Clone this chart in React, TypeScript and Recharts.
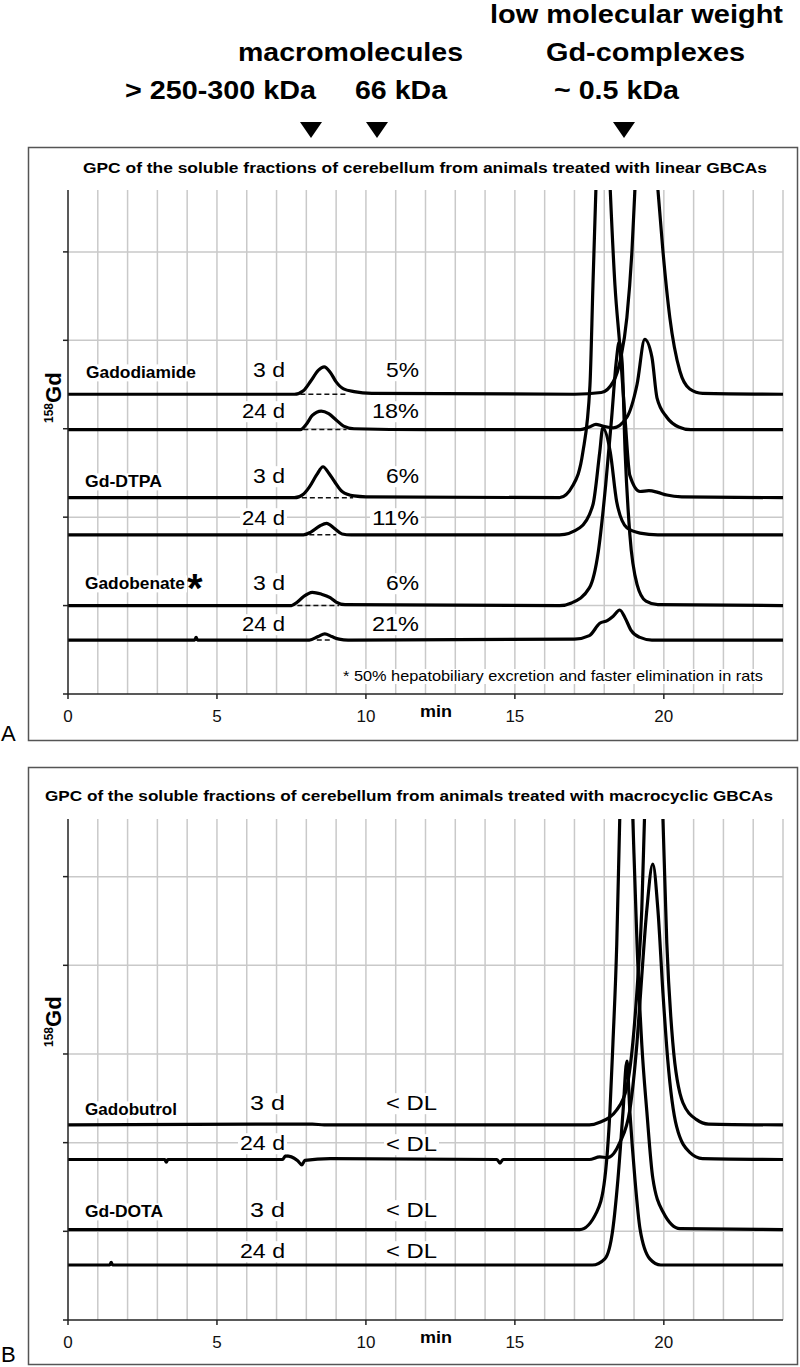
import { CartesianGrid, Line, LineChart, ReferenceLine, XAxis, YAxis } from "recharts";

type Pt = [number, number];
// dashed peak baselines: [from min, to min, level]
type Dash = [number, number, number];

const FONT = '"Liberation Sans", Arial, Helvetica, sans-serif';

const minuteTicks = [0, 5, 10, 15, 20];
const gridMinutes = [1, 2, 3, 4, 5, 6, 7, 8, 9, 10, 11, 12, 13, 14, 15, 16, 17, 18, 19, 20, 21, 22, 23, 24];
const levelTicks = [0, 1, 2, 3, 4, 5];
const gridLevels = [1, 2, 3, 4, 5];

// ---- panel A: linear GBCAs (traces stacked with an offset) ----
const gadodiamide3d: Pt[] = [
  [0, 3.39], [7.6, 3.39], [7.9, 3.43], [8.15, 3.54], [8.4, 3.66], [8.6, 3.7], [8.8, 3.64], [9.0, 3.53],
  [9.25, 3.45], [9.6, 3.42], [10.2, 3.4], [17.0, 3.39], [17.9, 3.41], [18.3, 3.53], [18.55, 3.79],
  [18.76, 4.26], [18.93, 5.01], [19.03, 5.71], [19.4, 7.6], [19.8, 5.71], [19.97, 5.01], [20.2, 4.26],
  [20.54, 3.65], [20.87, 3.45], [21.3, 3.4], [24, 3.39],
];
const gadodiamide24d: Pt[] = [
  [0, 2.99], [7.8, 2.99], [8.0, 3.05], [8.2, 3.15], [8.5, 3.2], [8.75, 3.17], [9.0, 3.1], [9.25, 3.03],
  [9.6, 3.0], [12, 2.99], [17.2, 2.99], [17.5, 3.02], [17.72, 3.05], [17.95, 3.03], [18.3, 3.01],
  [18.76, 3.13], [19.1, 3.5], [19.36, 4.01], [19.6, 3.81], [19.77, 3.35], [20.1, 3.13], [20.5, 3.02],
  [20.9, 2.99], [24, 2.99],
];
const gdDtpa3d: Pt[] = [
  [0, 2.22], [7.6, 2.22], [7.9, 2.26], [8.1, 2.34], [8.35, 2.48], [8.56, 2.57], [8.75, 2.5], [8.95, 2.4],
  [9.2, 2.29], [9.6, 2.24], [10, 2.23], [16.5, 2.22], [16.95, 2.36], [17.28, 2.73], [17.52, 3.49],
  [17.62, 4.62], [17.72, 5.71], [17.95, 8], [18.2, 5.71], [18.36, 4.62], [18.52, 3.95], [18.7, 3.11],
  [18.86, 2.47], [19.2, 2.29], [19.5, 2.3], [19.8, 2.28], [20.1, 2.25], [20.6, 2.23], [24, 2.22],
];
const gdDtpa24d: Pt[] = [
  [0, 1.8], [7.9, 1.8], [8.15, 1.83], [8.45, 1.9], [8.68, 1.93], [8.95, 1.87], [9.2, 1.81], [9.5, 1.8],
  [16.5, 1.8], [17.18, 1.88], [17.62, 2.14], [17.85, 2.74], [17.95, 3.01], [18.2, 2.74], [18.42, 2.17],
  [18.76, 1.88], [19.2, 1.82], [19.8, 1.8], [24, 1.8],
];
const gadobenate3d: Pt[] = [
  [0, 1.0], [7.5, 1.0], [7.7, 1.04], [7.9, 1.1], [8.2, 1.15], [8.5, 1.13], [8.8, 1.09], [9.0, 1.04],
  [9.3, 1.01], [16.5, 1.0], [16.9, 1.03], [17.5, 1.2], [17.8, 1.61], [18.05, 2.37], [18.25, 3.13],
  [18.4, 3.75], [18.5, 3.98], [18.6, 3.75], [18.7, 2.74], [18.86, 1.8], [19.1, 1.24], [19.4, 1.05],
  [19.8, 1.01], [24, 1.0],
];
const gadobenate24d: Pt[] = [
  [0, 0.61], [4.25, 0.61], [4.3, 0.64], [4.35, 0.61], [8.1, 0.61], [8.4, 0.65], [8.62, 0.68], [8.85, 0.65],
  [9.1, 0.62], [9.4, 0.61], [17.0, 0.62], [17.5, 0.66], [17.85, 0.8], [18.1, 0.83], [18.3, 0.88],
  [18.52, 0.95], [18.7, 0.86], [18.9, 0.72], [19.2, 0.64], [19.6, 0.61], [24, 0.61],
];
const dashesA: Dash[] = [
  [7.8, 9.4, 3.39],
  [7.9, 9.35, 2.99],
  [7.85, 9.57, 2.22],
  [8.1, 9.0, 1.8],
  [7.7, 9.1, 1.0],
  [8.35, 8.8, 0.61],
];

// ---- panel B: macrocyclic GBCAs ----
const gadobutrol3d: Pt[] = [
  [0, 2.2], [8.2, 2.21], [8.6, 2.2], [17.5, 2.2], [17.85, 2.23], [18.42, 2.37], [18.76, 2.63],
  [18.96, 3.13], [19.13, 3.87], [19.26, 4.63], [19.35, 5.65], [19.63, 8], [19.97, 5.65], [20.1, 4.25],
  [20.3, 3.13], [20.64, 2.45], [21.1, 2.26], [21.5, 2.21], [24, 2.2],
];
const gadobutrol24d: Pt[] = [
  [0, 1.81], [3.25, 1.81], [3.3, 1.78], [3.35, 1.81], [7.2, 1.81], [7.3, 1.85], [7.5, 1.84], [7.7, 1.8],
  [7.85, 1.75], [7.95, 1.8], [8.8, 1.82], [14.4, 1.81], [14.5, 1.77], [14.6, 1.81], [17.5, 1.81],
  [17.85, 1.84], [18.1, 1.83], [18.52, 2.0], [18.86, 2.37], [19.1, 3.13], [19.26, 3.88], [19.43, 4.63],
  [19.63, 5.14], [19.8, 4.63], [19.97, 3.69], [20.13, 2.94], [20.43, 2.18], [20.87, 1.89], [21.3, 1.82],
  [24, 1.81],
];
const gdDota3d: Pt[] = [
  [0, 1.02], [17.18, 1.02], [17.75, 1.22], [18.02, 1.6], [18.19, 2.35], [18.29, 3.11], [18.42, 4.24],
  [18.52, 5.65], [18.74, 8], [18.96, 5.65], [19.1, 4.24], [19.26, 3.11], [19.43, 2.35], [19.63, 1.6],
  [19.97, 1.22], [20.54, 1.03], [24, 1.02],
];
const gdDota24d: Pt[] = [
  [0, 0.62], [1.4, 0.62], [1.45, 0.65], [1.5, 0.62], [17.6, 0.62], [18.02, 0.69], [18.29, 1.03],
  [18.46, 1.59], [18.63, 2.35], [18.76, 2.92], [18.86, 2.35], [19.03, 1.59], [19.2, 1.03], [19.53, 0.69],
  [19.9, 0.62], [24, 0.62],
];

interface PanelProps {
  traces: Pt[][];
  dashes: Dash[];
  yMax: number;
  height: number;
  margin: { top: number; right: number; bottom: number; left: number };
}

// the y axis shows tick marks but no numbers; tick={false} would drop the marks
// (and the horizontal grid that follows them), so render an empty label instead
const NoLabel = () => <g />;

function Panel({ traces, dashes, yMax, height, margin }: PanelProps) {
  return (
    <LineChart width={800} height={height} margin={margin}>
      <CartesianGrid
        stroke="#c9c9c9"
        strokeWidth={1.5}
        verticalValues={gridMinutes}
        horizontalValues={gridLevels}
      />
      <XAxis
        type="number"
        dataKey="t"
        domain={[0, 24]}
        ticks={minuteTicks}
        height={30}
        stroke="#222"
        strokeWidth={1.5}
        tickSize={5}
        tickMargin={11}
        tick={{ fontSize: 17, fill: "#111", fontFamily: FONT }}
      />
      <YAxis
        type="number"
        domain={[0, yMax]}
        ticks={levelTicks}
        allowDataOverflow
        width={10}
        stroke="#222"
        strokeWidth={1.5}
        tickSize={5}
        tick={NoLabel}
      />
      {dashes.map(([from, to, level], i) => (
        <ReferenceLine
          key={`d${i}`}
          segment={[
            { x: from, y: level },
            { x: to, y: level },
          ]}
          stroke="#111"
          strokeWidth={1.5}
          strokeDasharray="5 3"
        />
      ))}
      {traces.map((tr, i) => (
        <Line
          key={i}
          data={tr.map(([t, v]) => ({ t, v }))}
          dataKey="v"
          type="monotone"
          dot={false}
          stroke="#000"
          strokeWidth={3.2}
          isAnimationActive={false}
        />
      ))}
    </LineChart>
  );
}

// text drawn at a measured width, optionally on a white box that hides the grid
function Tag({
  x, y, w, size, bold = false, text, box = true,
}: { x: number; y: number; w: number; size: number; bold?: boolean; text: string; box?: boolean }) {
  return (
    <g>
      {box && <rect x={x - 2} y={y - size * 0.8} width={w + 4} height={size * 1.0} fill="#fff" />}
      <text x={x} y={y} fontSize={size} fontWeight={bold ? 700 : 400} textLength={w} lengthAdjust="spacingAndGlyphs" fill="#000">
        {text}
      </text>
    </g>
  );
}

function Triangle({ cx }: { cx: number }) {
  return <polygon points={`${cx - 11},122 ${cx + 11},122 ${cx},138`} fill="#000" />;
}

export default function App() {
  return (
    <div style={{ position: "absolute", left: 0, top: 0, width: 800, height: 1367, background: "#fff", fontFamily: FONT }}>
      <div style={{ position: "absolute", left: 0, top: 0 }}>
        <Panel
          traces={[gadodiamide3d, gadodiamide24d, gdDtpa3d, gdDtpa24d, gadobenate3d, gadobenate24d]}
          dashes={dashesA}
          yMax={5.7}
          height={740}
          margin={{ top: 190, right: 17, bottom: 16, left: 58 }}
        />
      </div>
      <div style={{ position: "absolute", left: 0, top: 760 }}>
        <Panel
          traces={[gadobutrol3d, gadobutrol24d, gdDota3d, gdDota24d]}
          dashes={[]}
          yMax={5.65}
          height={607}
          margin={{ top: 59, right: 17, bottom: 17, left: 58 }}
        />
      </div>

      <svg width={800} height={1367} style={{ position: "absolute", left: 0, top: 0, pointerEvents: "none", fontFamily: FONT }}>
        {/* header */}
        <Tag x={490} y={23} w={293} size={26} bold text="low molecular weight" box={false} />
        <Tag x={238} y={61} w={225} size={26} bold text="macromolecules" box={false} />
        <Tag x={546} y={61} w={199} size={26} bold text="Gd-complexes" box={false} />
        <Tag x={125} y={99} w={191} size={26} bold text="> 250-300 kDa" box={false} />
        <Tag x={355} y={99} w={92} size={26} bold text="66 kDa" box={false} />
        <Tag x={554} y={99} w={125} size={26} bold text="~ 0.5 kDa" box={false} />
        <Triangle cx={311} />
        <Triangle cx={377} />
        <Triangle cx={624} />

        {/* panel frames */}
        <rect x={28.5} y={147.5} width={769} height={593} fill="none" stroke="#555" strokeWidth={1.5} />
        <rect x={28.5} y={767.5} width={769} height={597} fill="none" stroke="#555" strokeWidth={1.5} />
        <text x={1} y={741} fontSize={22} fill="#000">A</text>
        <text x={1} y={1362} fontSize={22} fill="#000">B</text>

        {/* panel A */}
        <Tag x={83} y={173} w={684} size={14.5} bold text="GPC of the soluble fractions of cerebellum from animals treated with linear GBCAs" box={false} />
        <text transform="translate(61, 423) rotate(-90)" fontWeight={700} fill="#000">
          <tspan fontSize={12} dy={-8}>158</tspan>
          <tspan fontSize={22} dy={8}>Gd</tspan>
        </text>
        <Tag x={86} y={378} w={110} size={17} bold text="Gadodiamide" />
        <Tag x={253} y={377} w={32} size={21} text="3 d" />
        <Tag x={386} y={377} w={33} size={21} text="5%" />
        <Tag x={242} y={418} w={43} size={21} text="24 d" />
        <Tag x={372} y={418} w={47} size={21} text="18%" />
        <Tag x={85} y={487} w={77} size={17} bold text="Gd-DTPA" />
        <Tag x={253} y={483} w={32} size={21} text="3 d" />
        <Tag x={386} y={483} w={33} size={21} text="6%" />
        <Tag x={242} y={525} w={43} size={21} text="24 d" />
        <Tag x={372} y={525} w={47} size={21} text="11%" />
        <Tag x={85} y={589} w={100} size={17} bold text="Gadobenate" />
        <text x={187} y={602} fontSize={40} fontWeight={700} fill="#000">*</text>
        <Tag x={253} y={590} w={32} size={21} text="3 d" />
        <Tag x={386} y={590} w={33} size={21} text="6%" />
        <Tag x={242} y={631} w={43} size={21} text="24 d" />
        <Tag x={372} y={631} w={47} size={21} text="21%" />
        <Tag x={343} y={681} w={420} size={15} text="* 50% hepatobiliary excretion and faster elimination in rats" />
        <Tag x={420} y={717} w={32} size={17} bold text="min" box={false} />

        {/* panel B */}
        <Tag x={45} y={801} w={728} size={15} bold text="GPC of the soluble fractions of cerebellum from animals treated with macrocyclic GBCAs" box={false} />
        <text transform="translate(61, 1047) rotate(-90)" fontWeight={700} fill="#000">
          <tspan fontSize={12} dy={-8}>158</tspan>
          <tspan fontSize={22} dy={8}>Gd</tspan>
        </text>
        <Tag x={85} y={1115} w={92} size={17} bold text="Gadobutrol" />
        <Tag x={250} y={1110} w={35} size={21} text="3 d" />
        <Tag x={386} y={1110} w={51} size={21} text="< DL" />
        <Tag x={240} y={1150} w={45} size={21} text="24 d" />
        <Tag x={386} y={1151} w={51} size={21} text="< DL" />
        <Tag x={85} y={1217} w={78} size={17} bold text="Gd-DOTA" />
        <Tag x={250} y={1217} w={35} size={21} text="3 d" />
        <Tag x={386} y={1217} w={51} size={21} text="< DL" />
        <Tag x={240} y={1258} w={45} size={21} text="24 d" />
        <Tag x={386} y={1258} w={51} size={21} text="< DL" />
        <Tag x={420} y={1343} w={32} size={17} bold text="min" box={false} />
      </svg>
    </div>
  );
}
